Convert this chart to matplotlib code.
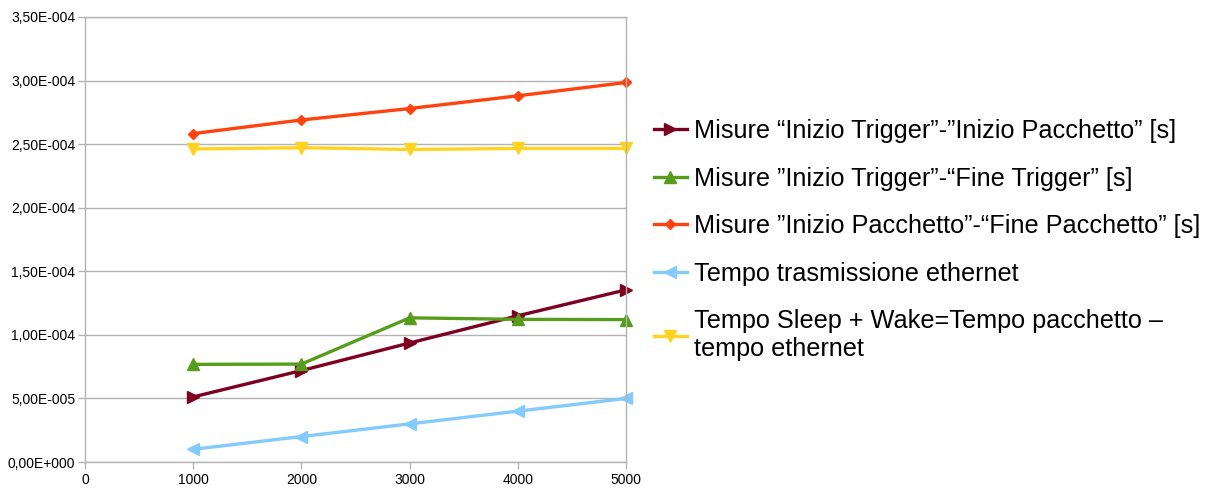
import matplotlib
matplotlib.use("Agg")
import matplotlib.pyplot as plt
from matplotlib.ticker import FuncFormatter, MultipleLocator

plt.rcParams["font.family"] = ["Liberation Sans", "DejaVu Sans"]

x_vals = [1000, 2000, 3000, 4000, 5000]

trigger_pacchetto = [5.12e-5, 7.19e-5, 9.36e-5, 1.150e-4, 1.354e-4]
trigger_fine = [7.68e-5, 7.70e-5, 1.134e-4, 1.122e-4, 1.120e-4]
pacchetto_fine = [2.583e-4, 2.690e-4, 2.780e-4, 2.880e-4, 2.985e-4]
ethernet = [1.0e-5, 2.0e-5, 3.0e-5, 4.0e-5, 5.0e-5]
sleep_wake = [2.462e-4, 2.472e-4, 2.458e-4, 2.466e-4, 2.466e-4]

labels = [
    "Misure \u201cInizio Trigger\u201d-\u201dInizio Pacchetto\u201d [s]",
    "Misure \u201dInizio Trigger\u201d-\u201cFine Trigger\u201d [s]",
    "Misure \u201dInizio Pacchetto\u201d-\u201cFine Pacchetto\u201d [s]",
    "Tempo trasmissione ethernet",
    "Tempo Sleep + Wake=Tempo pacchetto \u2013\ntempo ethernet",
]
series = [trigger_pacchetto, trigger_fine, pacchetto_fine, ethernet, sleep_wake]
colors = ["#7e0021", "#579d1c", "#ff420e", "#83caff", "#ffd320"]
markers = [">", "^", "D", "<", "v"]
msizes = [8, 8, 5.5, 8, 8]


def sci_label(v, pos):
    # LibreOffice style: comma decimal, three-digit exponent
    if v == 0:
        return "0,00E+000"
    mant, exp = f"{v:.2E}".split("E")
    sign = exp[0]
    return f"{mant.replace('.', ',')}E{sign}{int(exp[1:]):03d}"


fig = plt.figure(figsize=(12.09, 4.88), dpi=100)
ax = fig.add_axes([85 / 1209, 1 - 462 / 488, (626 - 85) / 1209, (462 - 17) / 488])

for ys, lab, col, mk, ms in zip(series, labels, colors, markers, msizes):
    ax.plot(x_vals, ys, color=col, marker=mk, markersize=ms, linewidth=2.4,
            label=lab, clip_on=False)

ax.set_xlim(0, 5000)
ax.set_ylim(0, 3.5e-4)
ax.xaxis.set_major_locator(MultipleLocator(1000))
ax.yaxis.set_major_locator(MultipleLocator(5e-5))
ax.yaxis.set_major_formatter(FuncFormatter(sci_label))
ax.grid(axis="y", color="#b3b3b3", linewidth=1)
ax.set_axisbelow(True)
for sp in ax.spines.values():
    sp.set_color("#b3b3b3")
    sp.set_linewidth(1)
ax.tick_params(axis="both", colors="#b3b3b3", labelcolor="#000000",
               labelsize=10, length=5, width=1, pad=2)
ax.tick_params(axis="x", pad=3)

fig.legend(loc="upper left", bbox_to_anchor=(654 / 1209, 1 - 119 / 488),
           frameon=False, fontsize=18.2, handlelength=1.3, handletextpad=0.3,
           labelspacing=0.93, borderpad=0, borderaxespad=0)

fig.savefig("out.png", dpi=100)
